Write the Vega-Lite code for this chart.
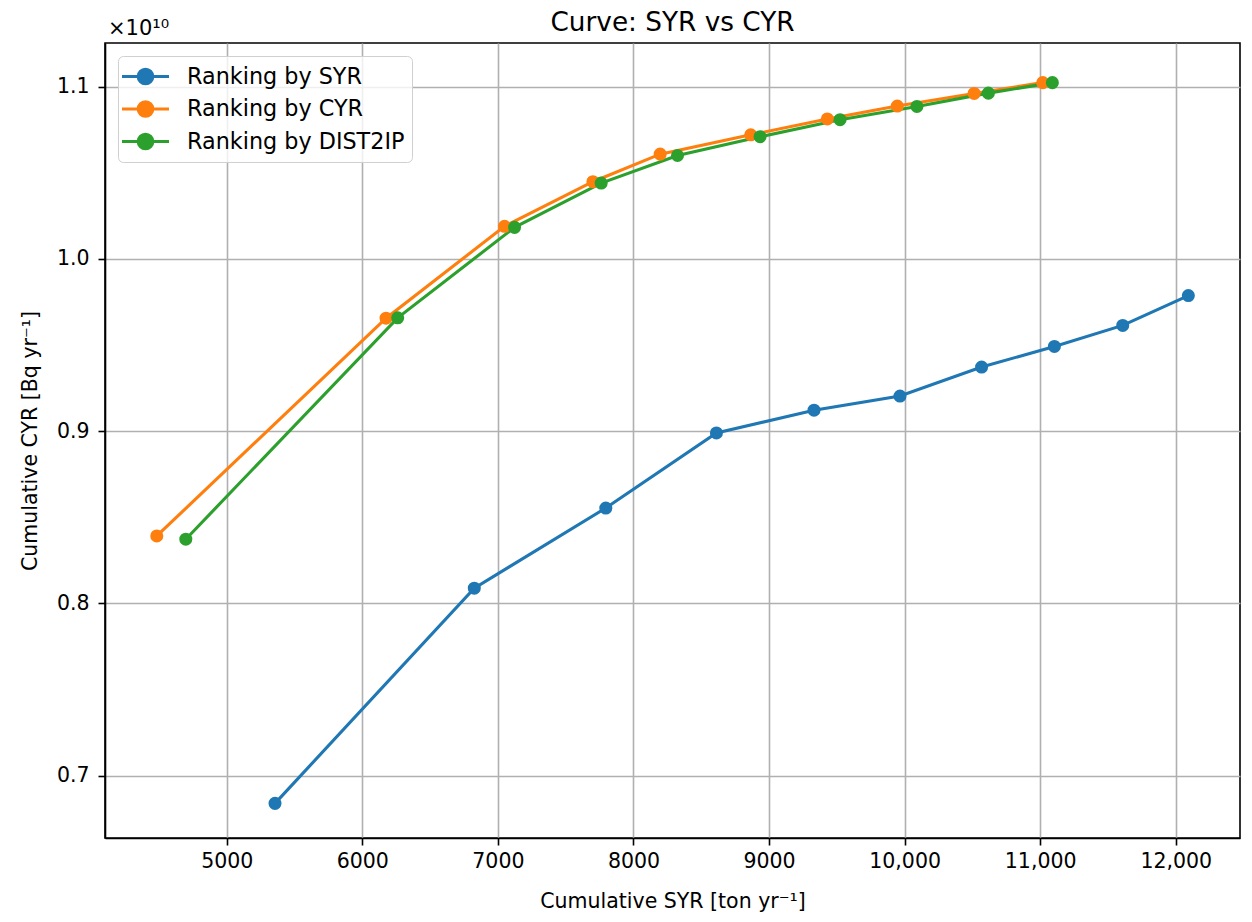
{
  "$schema": "https://vega.github.io/schema/vega-lite/v6.json",
  "width": 1135,
  "height": 795,
  "autosize": "none",
  "padding": {"left": 105, "top": 43, "right": 12, "bottom": 84},
  "background": "white",
  "config": {
    "font": "DejaVu Sans",
    "view": {"stroke": "black", "strokeWidth": 1.6},
    "axis": {
      "grid": true,
      "gridColor": "#b0b0b0",
      "gridWidth": 1.6,
      "domainColor": "black",
      "domainWidth": 1.6,
      "tickColor": "black",
      "tickWidth": 1.6,
      "tickSize": 7,
      "labelFont": "DejaVu Sans",
      "labelFontSize": 20.5,
      "labelColor": "black",
      "titleFont": "DejaVu Sans",
      "titleFontSize": 20.5,
      "titleFontWeight": "normal",
      "titleColor": "black"
    }
  },
  "title": {
    "text": "Curve: SYR vs CYR",
    "fontSize": 26.3,
    "fontWeight": "normal",
    "font": "DejaVu Sans",
    "color": "black",
    "baseline": "alphabetic",
    "offset": -39,
    "anchor": "middle"
  },
  "layer": [
    {
      "data": {
        "values": [
          {"series": "Ranking by SYR", "rank": 1, "syr": 5356, "cyr": 6840000000},
          {"series": "Ranking by SYR", "rank": 2, "syr": 6826, "cyr": 8089000000},
          {"series": "Ranking by SYR", "rank": 3, "syr": 7796, "cyr": 8554000000},
          {"series": "Ranking by SYR", "rank": 4, "syr": 8612, "cyr": 8990000000},
          {"series": "Ranking by SYR", "rank": 5, "syr": 9332, "cyr": 9122000000},
          {"series": "Ranking by SYR", "rank": 6, "syr": 9966, "cyr": 9204000000},
          {"series": "Ranking by SYR", "rank": 7, "syr": 10568, "cyr": 9372000000},
          {"series": "Ranking by SYR", "rank": 8, "syr": 11105, "cyr": 9492000000},
          {"series": "Ranking by SYR", "rank": 9, "syr": 11609, "cyr": 9614000000},
          {"series": "Ranking by SYR", "rank": 10, "syr": 12093, "cyr": 9787000000},
          {"series": "Ranking by CYR", "rank": 1, "syr": 4484, "cyr": 8392000000},
          {"series": "Ranking by CYR", "rank": 2, "syr": 6175, "cyr": 9656000000},
          {"series": "Ranking by CYR", "rank": 3, "syr": 7049, "cyr": 10189000000},
          {"series": "Ranking by CYR", "rank": 4, "syr": 7701, "cyr": 10448000000},
          {"series": "Ranking by CYR", "rank": 5, "syr": 8197, "cyr": 10608000000},
          {"series": "Ranking by CYR", "rank": 6, "syr": 8865, "cyr": 10720000000},
          {"series": "Ranking by CYR", "rank": 7, "syr": 9430, "cyr": 10812000000},
          {"series": "Ranking by CYR", "rank": 8, "syr": 9946, "cyr": 10887000000},
          {"series": "Ranking by CYR", "rank": 9, "syr": 10513, "cyr": 10960000000},
          {"series": "Ranking by CYR", "rank": 10, "syr": 11019, "cyr": 11023000000},
          {"series": "Ranking by DIST2IP", "rank": 1, "syr": 4698, "cyr": 8373000000},
          {"series": "Ranking by DIST2IP", "rank": 2, "syr": 6261, "cyr": 9658000000},
          {"series": "Ranking by DIST2IP", "rank": 3, "syr": 7123, "cyr": 10183000000},
          {"series": "Ranking by DIST2IP", "rank": 4, "syr": 7762, "cyr": 10440000000},
          {"series": "Ranking by DIST2IP", "rank": 5, "syr": 8325, "cyr": 10600000000},
          {"series": "Ranking by DIST2IP", "rank": 6, "syr": 8934, "cyr": 10709000000},
          {"series": "Ranking by DIST2IP", "rank": 7, "syr": 9524, "cyr": 10808000000},
          {"series": "Ranking by DIST2IP", "rank": 8, "syr": 10091, "cyr": 10885000000},
          {"series": "Ranking by DIST2IP", "rank": 9, "syr": 10618, "cyr": 10962000000},
          {"series": "Ranking by DIST2IP", "rank": 10, "syr": 11090, "cyr": 11023000000}
        ]
      },
      "mark": {
        "type": "line",
        "strokeWidth": 3.1,
        "point": {"filled": true, "size": 170, "opacity": 1}
      },
      "encoding": {
        "x": {
          "field": "syr",
          "type": "quantitative",
          "scale": {"domain": [4102, 12474], "nice": false, "zero": false},
          "axis": {
            "title": "Cumulative SYR [ton yr⁻¹]",
            "values": [5000, 6000, 7000, 8000, 9000, 10000, 11000, 12000],
            "labelExpr": "datum.value >= 10000 ? format(datum.value, ',') : format(datum.value, 'd')",
            "labelPadding": 6,
            "titlePadding": 20
          }
        },
        "y": {
          "field": "cyr",
          "type": "quantitative",
          "scale": {"domain": [6639000000, 11253000000], "nice": false, "zero": false},
          "axis": {
            "title": "Cumulative CYR [Bq yr⁻¹]",
            "values": [7000000000, 8000000000, 9000000000, 10000000000, 11000000000],
            "labelExpr": "format(datum.value / 1e10, '.1f')",
            "labelPadding": 9,
            "titlePadding": 16
          }
        },
        "order": {"field": "rank", "type": "quantitative"},
        "color": {
          "field": "series",
          "type": "nominal",
          "scale": {
            "domain": ["Ranking by SYR", "Ranking by CYR", "Ranking by DIST2IP"],
            "range": ["#1f77b4", "#ff7f0e", "#2ca02c"]
          },
          "legend": {
            "title": null,
            "orient": "top-left",
            "offset": 13,
            "padding": 7,
            "cornerRadius": 5,
            "strokeColor": "#d0d0d0",
            "fillColor": "rgba(255,255,255,0.8)",
            "labelFont": "DejaVu Sans",
            "labelFontSize": 22.3,
            "labelColor": "black",
            "labelLimit": 500,
            "labelOffset": 28,
            "rowPadding": 5.5,
            "symbolOffset": 7,
            "symbolSize": 552,
            "symbolStrokeWidth": 3.1,
            "symbolType": "M-2,0H-0.62A0.62,0.62 0 1,1 0.62,0H2M0.62,0A0.62,0.62 0 1,1 -0.62,0"
          }
        }
      }
    },
    {
      "data": {"values": [{"label": "×10¹⁰"}]},
      "mark": {
        "type": "text",
        "align": "left",
        "baseline": "alphabetic",
        "fontSize": 21,
        "font": "DejaVu Sans",
        "color": "black",
        "dx": 3,
        "dy": -8,
        "clip": false
      },
      "encoding": {
        "x": {"datum": 4102, "type": "quantitative"},
        "y": {"datum": 11253000000, "type": "quantitative"},
        "text": {"field": "label"}
      }
    }
  ]
}
